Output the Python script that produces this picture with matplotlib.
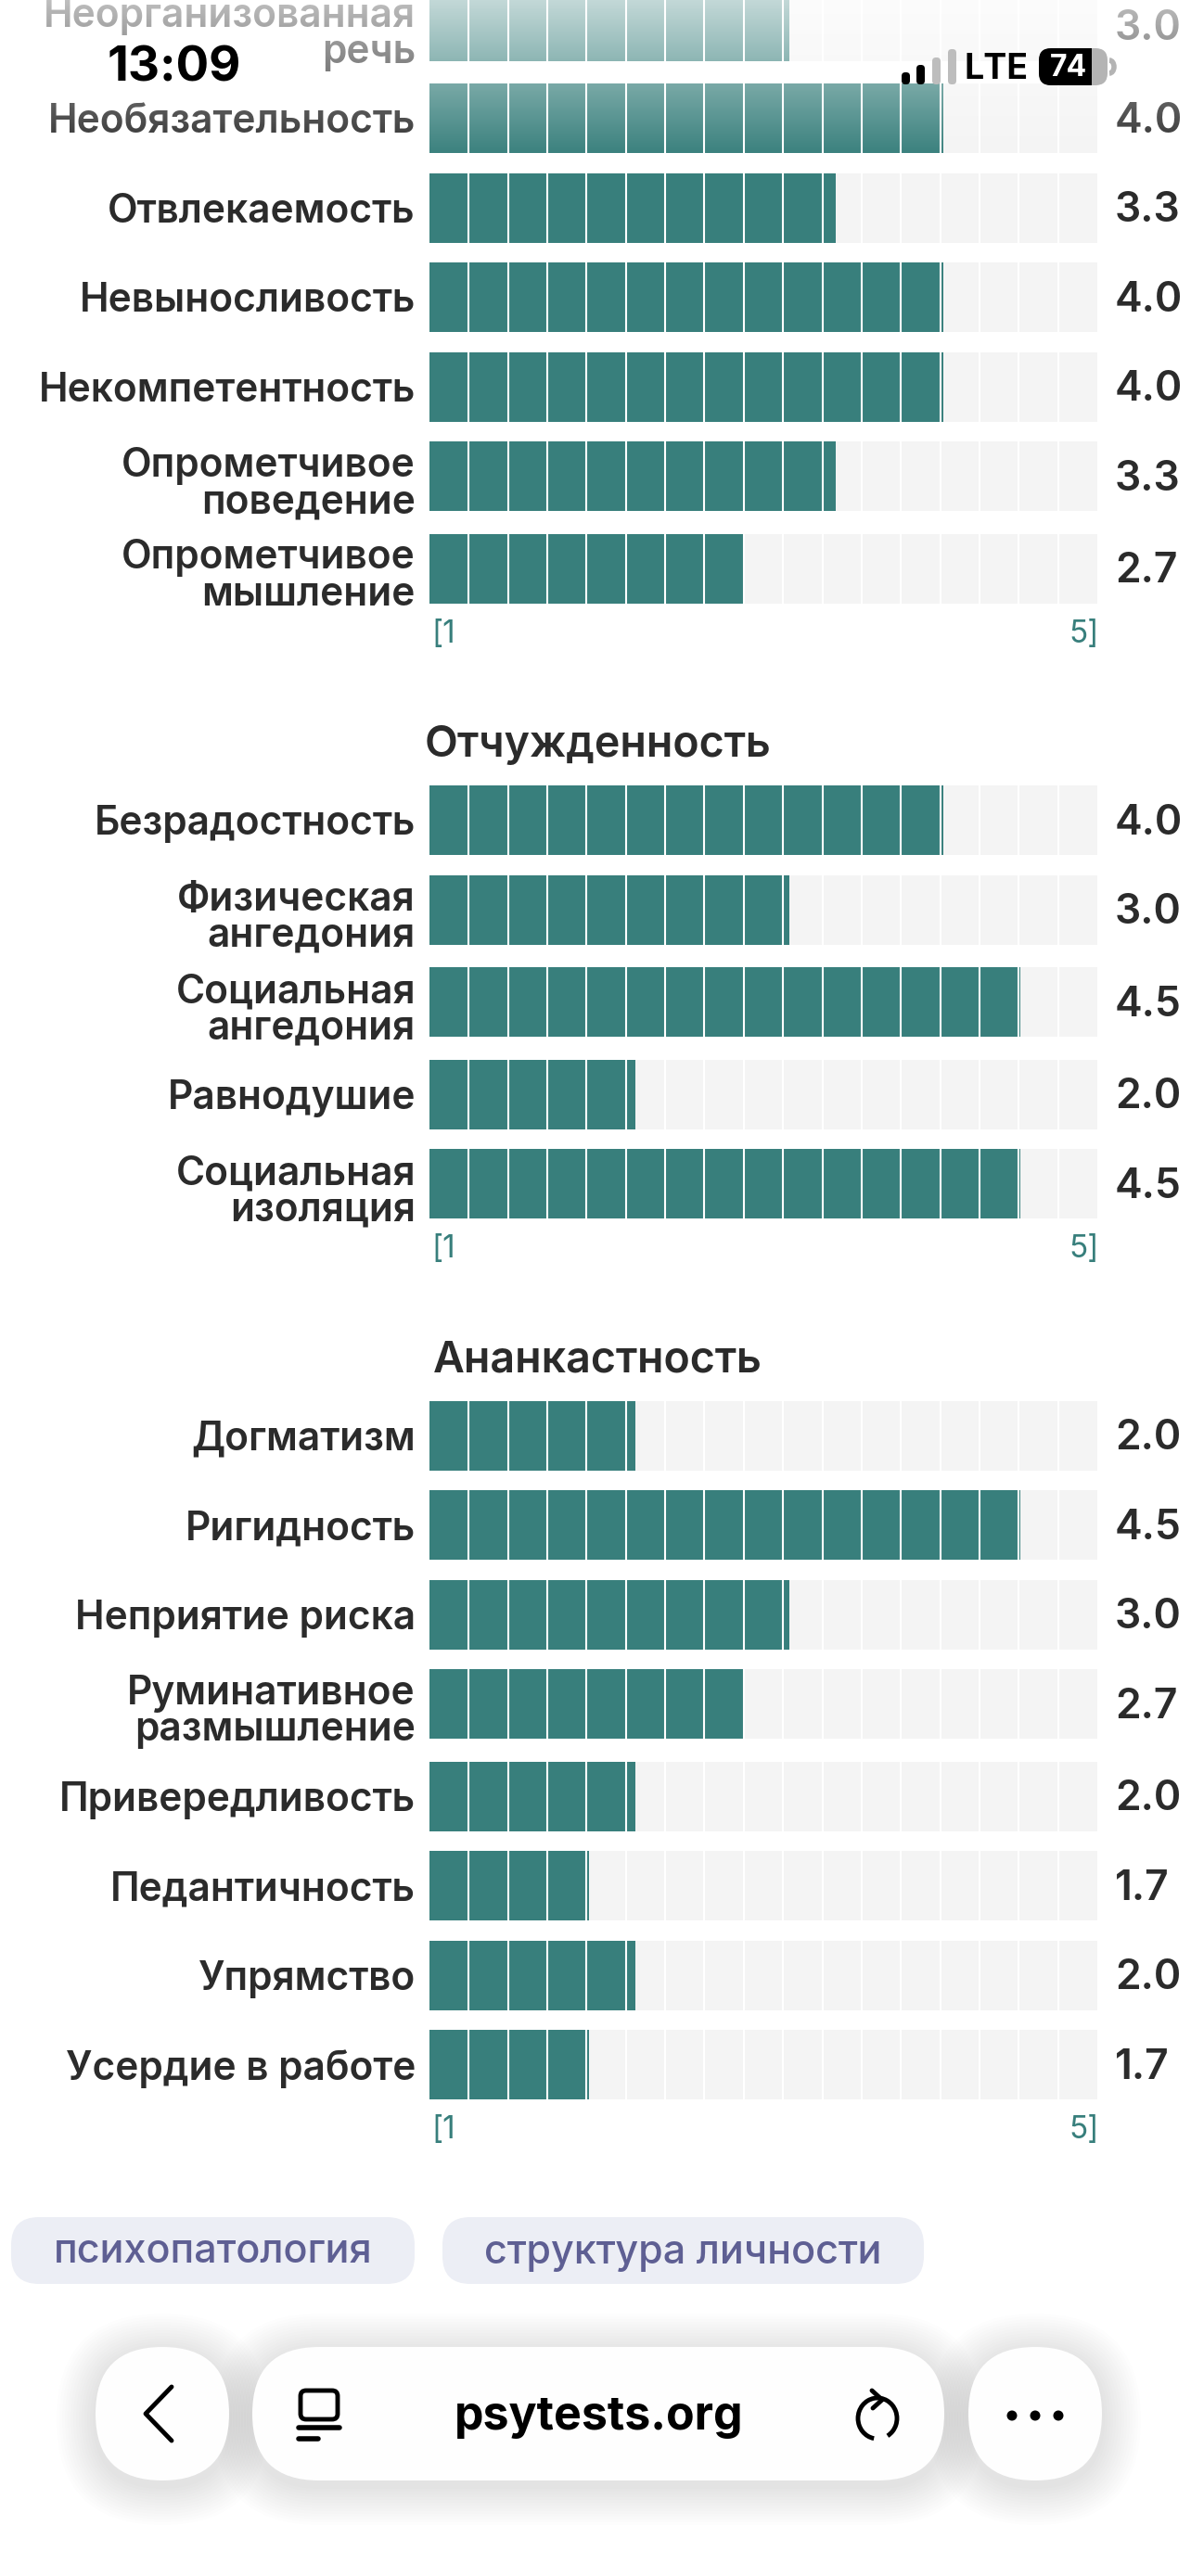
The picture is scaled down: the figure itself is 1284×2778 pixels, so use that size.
import numpy as np
import matplotlib
matplotlib.use("Agg")
import matplotlib.pyplot as plt
from matplotlib.patches import FancyBboxPatch, Circle, Arc, Rectangle

# ---- data
sec1_labels = ["Неорганизованная\nречь", "Необязательность", "Отвлекаемость",
               "Невыносливость", "Некомпетентность", "Опрометчивое\nповедение",
               "Опрометчивое\nмышление"]
sec1_values = [3.0, 4.0, 3.3, 4.0, 4.0, 3.3, 2.7]

sec2_title = "Отчужденность"
sec2_labels = ["Безрадостность", "Физическая\nангедония", "Социальная\nангедония",
               "Равнодушие", "Социальная\nизоляция"]
sec2_values = [4.0, 3.0, 4.5, 2.0, 4.5]

sec3_title = "Ананкастность"
sec3_labels = ["Догматизм", "Ригидность", "Неприятие риска", "Руминативное\nразмышление",
               "Привередливость", "Педантичность", "Упрямство", "Усердие в работе"]
sec3_values = [2.0, 4.5, 3.0, 2.7, 2.0, 1.7, 2.0, 1.7]

scale_min, scale_max = 1, 5
tags = ["психопатология", "структура личности"]
url = "psytests.org"
clock = "13:09"
battery = 74

# ---- style
W, H = 1284, 2778
TEAL = "#387f7c"
TRACK = "#f4f4f4"
TXT = "#2b2b2b"
plt.rcParams["font.family"] = ["Inter", "Roboto", "DejaVu Sans"]

X0, X1 = 463, 1183          # track in pixels
LO = 2 / 3                  # left end of the track in score units
BAR_H = 75
GAP = 21.5
TWO_LINE_H = 78

fig = plt.figure(figsize=(W / 100, H / 100), dpi=100)
fig.patch.set_facecolor("white")

bar_ax = fig.add_axes([X0 / W, 0, (X1 - X0) / W, 1])
bar_ax.set_xlim(LO, scale_max)
bar_ax.set_ylim(H, 0)
bar_ax.axis("off")

page = fig.add_axes([0, 0, 1, 1], zorder=5)
page.set_xlim(0, W)
page.set_ylim(H, 0)
page.axis("off")
page.patch.set_alpha(0)

cells = np.linspace(LO, scale_max, 18)[1:-1]


def draw_section(labels, values, top, title=None):
    if title:
        page.text(644, top + 3, title, ha="center", va="center", fontsize=33.5,
                  fontweight="semibold", color=TXT)
        top += 46.5
    tops = []
    for lab in labels:
        tops.append(top)
        top += (TWO_LINE_H if "\n" in lab else BAR_H) + GAP
    tops = np.array(tops)
    centers = tops + BAR_H / 2
    bar_ax.barh(centers, scale_max - LO, left=LO, height=BAR_H, color=TRACK, zorder=1)
    bar_ax.barh(centers, np.array(values) - LO, left=LO, height=BAR_H, color=TEAL, zorder=2)
    for c in centers:
        bar_ax.vlines(cells, c - BAR_H / 2, c + BAR_H / 2, color="white", lw=1.5, zorder=3)
    for lab, t, v in zip(labels, tops, values):
        two = "\n" in lab
        yc = t + (TWO_LINE_H / 2 + 7 if two else BAR_H / 2 + 4)
        page.text(448, yc, lab, ha="right", va="center", fontsize=30.5,
                  fontweight="semibold", color=TXT, linespacing=0.95)
        page.text(1202, t + BAR_H / 2 + 3, f"{v:.1f}", ha="left", va="center", fontsize=32,
                  fontweight="semibold", color=TXT)
    last = tops[-1] + BAR_H + 33
    page.text(X0 + 2, last, f"[{scale_min}", ha="left", va="center", fontsize=24, color=TEAL)
    page.text(X1 + 2, last, f"{scale_max}]", ha="right", va="center", fontsize=24, color=TEAL)
    return last + 117


nxt = draw_section(sec1_labels, sec1_values, -9.3)
nxt = draw_section(sec2_labels, sec2_values, nxt, sec2_title)
nxt = draw_section(sec3_labels, sec3_values, nxt, sec3_title)

# ---- fading overlay under the status bar
grad = np.zeros((170, 2, 4))
grad[..., :3] = 1.0
grad[..., 3] = np.linspace(0.7, 0.0, 170)[:, None]
page.imshow(grad, extent=(0, W, 170, 0), aspect="auto", zorder=6, interpolation="bilinear")

# status bar
page.text(188, 74, clock, ha="center", va="center", fontsize=38, fontweight="bold",
          color="black", zorder=8)
for i, (x, ytop) in enumerate([(972, 78), (988, 70), (1005, 62), (1022, 53)]):
    page.add_patch(FancyBboxPatch((x, ytop), 9, 91 - ytop, boxstyle="round,pad=0,rounding_size=4",
                                  fc="black" if i < 2 else "#bdbdbd", ec="none", zorder=8))
page.text(1074, 75, "LTE", ha="center", va="center", fontsize=27, fontweight="bold",
          color="black", zorder=8)
page.add_patch(FancyBboxPatch((1120, 52), 74, 40, boxstyle="round,pad=0,rounding_size=13",
                              fc="#b4b4b4", ec="none", zorder=8))
page.add_patch(FancyBboxPatch((1120, 52), 57, 40, boxstyle="round,pad=0,rounding_size=13",
                              fc="black", ec="none", zorder=8))
page.add_patch(Rectangle((1160, 52), 17, 40, fc="black", ec="none", zorder=8))
page.add_patch(Arc((1196, 72), 10, 14, theta1=-90, theta2=90, color="#b4b4b4", lw=4, zorder=8))
page.text(1152, 73, str(battery), ha="center", va="center", fontsize=23, fontweight="bold",
          color="white", zorder=9)

# ---- tags
tag_x = 12
for t in tags:
    tw = 435 if t == tags[0] else 519
    page.add_patch(FancyBboxPatch((tag_x, 2391), tw, 72, boxstyle="round,pad=0,rounding_size=30",
                                  fc="#eceef5", ec="none", zorder=2))
    page.text(tag_x + tw / 2, 2429, t, ha="center", va="center", fontsize=31,
              fontweight="medium", color="#5e5f93", zorder=3)
    tag_x += tw + 30

# ---- browser bar
for k in range(14, 0, -1):
    for (x, w) in [(103, 144), (272, 746), (1044, 144)]:
        page.add_patch(FancyBboxPatch((x - k * 3, 2531 - k * 3 + 6), w + k * 6, 144 + k * 6,
                                      boxstyle=f"round,pad=0,rounding_size={72 + k * 3}",
                                      fc="black", ec="none", alpha=0.006, zorder=1))
for (x, w) in [(103, 144), (272, 746), (1044, 144)]:
    page.add_patch(FancyBboxPatch((x, 2531), w, 144, boxstyle="round,pad=0,rounding_size=72",
                                  fc="#fefefe", ec="none", zorder=2))
page.plot([185, 157, 185], [2574, 2603, 2632], color="black", lw=3.5,
          solid_capstyle="round", solid_joinstyle="round", zorder=3)
page.add_patch(FancyBboxPatch((324, 2578), 40, 31, boxstyle="round,pad=0,rounding_size=6",
                              fc="none", ec="black", lw=3.5, zorder=3))
page.plot([322, 366], [2618, 2618], color="black", lw=4, solid_capstyle="round", zorder=3)
page.plot([322, 343], [2630, 2630], color="black", lw=4, solid_capstyle="round", zorder=3)
page.text(646, 2606, url, ha="center", va="center", fontsize=36, fontweight="bold",
          color="black", zorder=3)
page.add_patch(Arc((946, 2608), 42, 44, theta1=100, theta2=420, color="black", lw=3.5, zorder=3))
page.plot([940, 951, 941], [2578, 2588, 2597], color="black", lw=3.5,
          solid_capstyle="round", solid_joinstyle="round", zorder=3)
for dx in (-25, 0, 25):
    page.add_patch(Circle((1116 + dx, 2605), 5.5, fc="black", ec="none", zorder=3))

fig.savefig("out.png", dpi=100, facecolor="white")
